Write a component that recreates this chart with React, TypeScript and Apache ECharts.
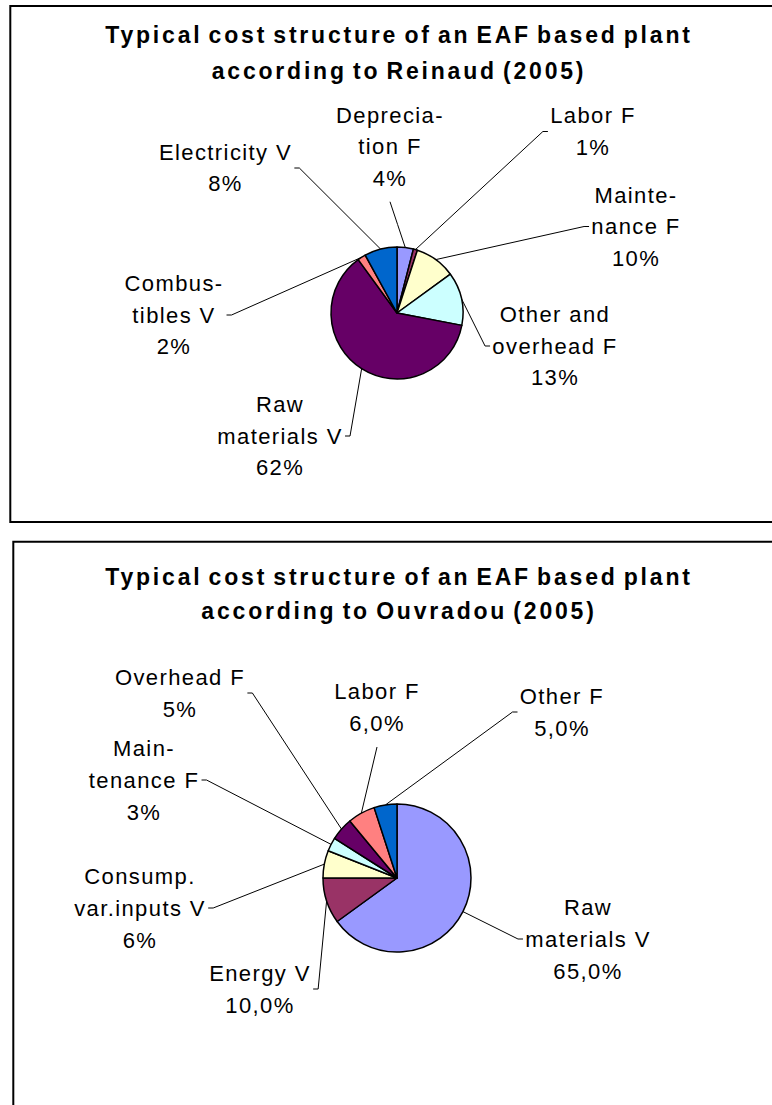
import React, { useEffect, useRef } from "react";
import * as echarts from "echarts";

// ---------- data ----------
const topTitle = "Typical cost structure of an EAF based plant\naccording to Reinaud (2005)";
const topCategories = [
  "Deprecia-\ntion F",
  "Labor F",
  "Mainte-\nnance F",
  "Other and\noverhead F",
  "Raw\nmaterials V",
  "Combus-\ntibles V",
  "Electricity V",
];
const topValues = [4, 1, 10, 13, 62, 2, 8];
const topPctLabels = ["4%", "1%", "10%", "13%", "62%", "2%", "8%"];

const bottomTitle = "Typical cost structure of an EAF based plant\naccording to Ouvradou (2005)";
const bottomCategories = [
  "Raw\nmaterials V",
  "Energy V",
  "Consump.\nvar.inputs V",
  "Main-\ntenance F",
  "Overhead F",
  "Labor F",
  "Other F",
];
const bottomValues = [65, 10, 6, 3, 5, 6, 5];
const bottomPctLabels = ["65,0%", "10,0%", "6%", "3%", "5%", "6,0%", "5,0%"];

const palette = ["#9999FF", "#993366", "#FFFFCC", "#CCFFFF", "#660066", "#FF8080", "#0066CC"];

// ---------- layout (positions of label blocks, not data) ----------
const topLabelPos = [
  [390, 146.5],
  [593, 131.5],
  [636, 226.5],
  [555, 346],
  [280, 436],
  [174, 315],
  [225.5, 168],
];
const topSides = ["bottom", "left", "left", "left", "right", "right", "right"];
const bottomLabelPos = [
  [588, 939],
  [260, 989],
  [140, 908],
  [144, 780],
  [180, 693],
  [377, 707],
  [562, 712],
];
const bottomSides = ["left", "right", "right", "right", "right", "bottom", "left"];

const FONT = "'Liberation Sans', Arial, Helvetica, sans-serif";
const LABEL_LS = 1.4;

function midArcPoint(values: number[], i: number, center: number[], r: number) {
  const total = values.reduce((a, b) => a + b, 0);
  let acc = 0;
  for (let j = 0; j < i; j++) acc += values[j];
  const a = ((acc + values[i] / 2) / total) * Math.PI * 2;
  return [center[0] + r * Math.sin(a), center[1] - r * Math.cos(a)];
}

function makeSeries(
  names: string[],
  values: number[],
  pct: string[],
  center: number[],
  radius: number,
  positions: number[][],
  sides: string[],
  lineHeight: number
) {
  return {
    type: "pie",
    center,
    radius,
    startAngle: 90,
    clockwise: true,
    avoidLabelOverlap: false,
    silent: true,
    emphasis: { disabled: true },
    data: names.map((n, i) => ({ name: n, value: values[i], itemStyle: { color: palette[i] } })),
    itemStyle: { borderColor: "#000", borderWidth: 1.5 },
    label: {
      show: true,
      position: "outside",
      formatter: (p: any) => `${p.name}\n${pct[p.dataIndex]}`,
      fontSize: 22,
      fontFamily: FONT,
      color: "#000",
      lineHeight,
      align: "center",
    },
    labelLine: {
      show: true,
      length: 10,
      length2: 5,
      smooth: false,
      lineStyle: { color: "#000", width: 1 },
    },
    labelLayout: (params: any) => {
      const i = params.dataIndex;
      const [x, y] = positions[i];
      const lines = String(params.text || "").split("\n");
      const maxChars = Math.max(...lines.map((l) => l.length));
      const w = params.labelRect.width + (maxChars - 1) * LABEL_LS;
      const h = params.labelRect.height;
      const p0 =
        params.labelLinePoints && params.labelLinePoints[0]
          ? params.labelLinePoints[0]
          : midArcPoint(values, i, center, radius);
      const gap = 3;
      const tick = 5;
      let p1: number[];
      let p2: number[];
      const side = sides[i];
      if (side === "left") {
        p2 = [x - w / 2 - gap, y];
        p1 = [p2[0] - tick, y];
      } else if (side === "right") {
        p2 = [x + w / 2 + gap, y];
        p1 = [p2[0] + tick, y];
      } else {
        p2 = [x, y + h / 2 + 8];
        p1 = [(p2[0] + p0[0]) / 2, (p2[1] + p0[1]) / 2];
      }
      return {
        x,
        y,
        align: "center",
        verticalAlign: "middle",
        labelLinePoints: [p0, p1, p2],
      };
    },
  };
}

export default function App() {
  const ref = useRef<HTMLDivElement>(null);

  useEffect(() => {
    if (!ref.current) return;
    const chart = echarts.init(ref.current, undefined, { renderer: "svg" });
    const titleStyle = {
      fontSize: 23,
      fontWeight: "bold",
      fontFamily: FONT,
      fill: "#000",
      align: "center",
      verticalAlign: "middle",
    };
    chart.setOption({
      animation: false,
      backgroundColor: "#ffffff",
      graphic: [
        {
          type: "rect",
          shape: { x: 10.3, y: 6, width: 820, height: 516 },
          style: { fill: "none", stroke: "#000", lineWidth: 2 },
          silent: true,
        },
        {
          type: "rect",
          shape: { x: 13.3, y: 541.7, width: 820, height: 620 },
          style: { fill: "none", stroke: "#000", lineWidth: 2 },
          silent: true,
        },
        {
          type: "text",
          x: 399,
          y: 53,
          style: { ...titleStyle, text: topTitle, lineHeight: 36 },
          silent: true,
        },
        {
          type: "text",
          x: 399,
          y: 593.5,
          style: { ...titleStyle, text: bottomTitle, lineHeight: 34 },
          silent: true,
        },
      ],
      series: [
        makeSeries(topCategories, topValues, topPctLabels, [397, 313], 66, topLabelPos, topSides, 31.5),
        makeSeries(bottomCategories, bottomValues, bottomPctLabels, [397, 878], 74, bottomLabelPos, bottomSides, 32),
      ],
    });
    return () => chart.dispose();
  }, []);

  return (
    <div id="eaf-chart" style={{ position: "absolute", left: 0, top: 0, width: 772, height: 1105, background: "#fff" }}>
      <style>{`
        #eaf-chart svg text { letter-spacing: ${LABEL_LS}px; }
        #eaf-chart svg text[style*="bold"], #eaf-chart svg text[font-weight="bold"] { letter-spacing: 2.8px; word-spacing: -3px; }
      `}</style>
      <div ref={ref} style={{ width: 772, height: 1105 }} />
    </div>
  );
}
